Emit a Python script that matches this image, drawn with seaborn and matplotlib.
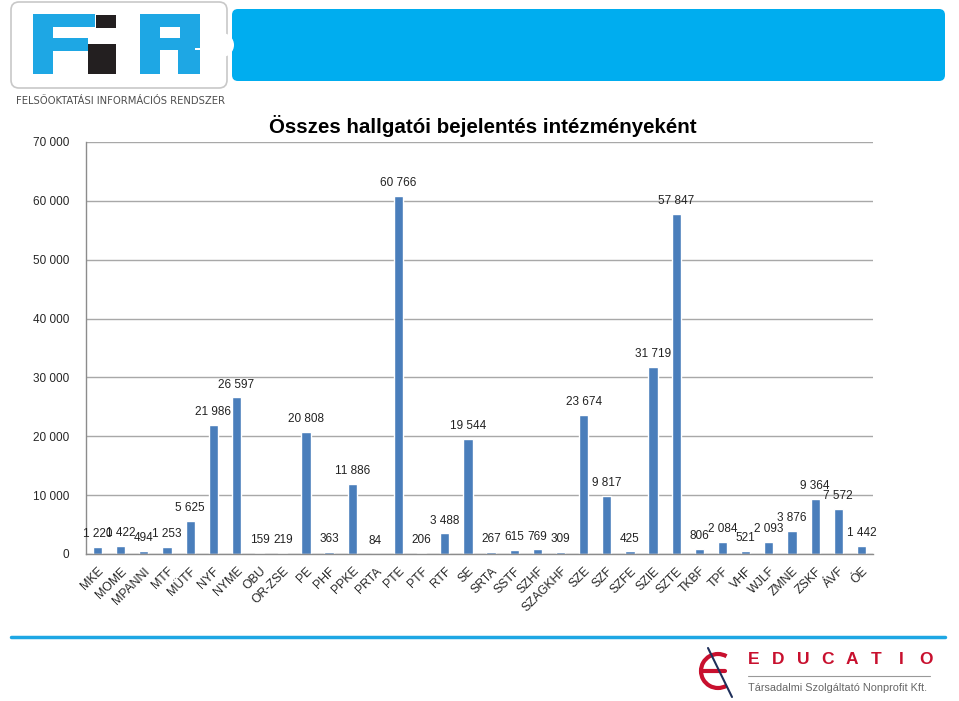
import matplotlib
matplotlib.use("Agg")
import matplotlib.pyplot as plt
import seaborn as sns
import pandas as pd
from matplotlib.patches import Rectangle, FancyBboxPatch, Arc
from matplotlib.lines import Line2D

categories = ["MKE", "MOME", "MPANNI", "MTF", "MÜTF", "NYF", "NYME", "OBU", "OR-ZSE",
              "PE", "PHF", "PPKE", "PRTA", "PTE", "PTF", "RTF", "SE", "SRTA", "SSTF",
              "SZHF", "SZAGKHF", "SZE", "SZF", "SZFE", "SZIE", "SZTE", "TKBF", "TPF",
              "VHF", "WJLF", "ZMNE", "ZSKF", "ÁVF", "ÓE"]
values = [1220, 1422, 494, 1253, 5625, 21986, 26597, 159, 219,
          20808, 363, 11886, 84, 60766, 206, 3488, 19544, 267, 615,
          769, 309, 23674, 9817, 425, 31719, 57847, 806, 2084,
          521, 2093, 3876, 9364, 7572, 1442]
y_ticks = [0, 10000, 20000, 30000, 40000, 50000, 60000, 70000]
y_tick_labels = ["0", "10 000", "20 000", "30 000", "40 000", "50 000", "60 000", "70 000"]
title = "Összes hallgatói bejelentés intézményeként"

sns.set_style("white")
plt.rcParams["font.family"] = ["Liberation Sans", "DejaVu Sans"]

W, H = 959, 701
fig = plt.figure(figsize=(W / 100, H / 100), dpi=100)

# decoration layer in pixel coordinates
deco = fig.add_axes([0, 0, 1, 1], zorder=0)
deco.set_xlim(0, W)
deco.set_ylim(H, 0)
deco.axis("off")

blue = "#1ea7e4"
# banner
deco.add_patch(FancyBboxPatch((232, 9), 713, 72, boxstyle="round,pad=0,rounding_size=6",
                              fc="#00adef", ec="none"))
# white logo box
deco.add_patch(FancyBboxPatch((11, 2), 216, 86, boxstyle="round,pad=0,rounding_size=8",
                              fc="white", ec="#c8c8c8", lw=1.2))
deco.add_patch(plt.Circle((222, 45), 12, fc="white", ec="none"))
# F
for (x0, y0, w, h) in [(33, 14, 20, 60), (33, 14, 62, 13), (33, 38, 55, 13)]:
    deco.add_patch(Rectangle((x0, y0), w, h, fc=blue, ec="none"))
# I (black)
for (x0, y0, w, h) in [(96, 15, 20, 13), (88, 44, 28, 30)]:
    deco.add_patch(Rectangle((x0, y0), w, h, fc="#231f20", ec="none"))
# R
for (x0, y0, w, h) in [(140, 14, 20, 60), (140, 14, 50, 13), (180, 14, 20, 34),
                       (140, 38, 55, 12), (178, 50, 22, 24)]:
    deco.add_patch(Rectangle((x0, y0), w, h, fc=blue, ec="none"))
deco.text(120, 101, "FELSŐOKTATÁSI INFORMÁCIÓS RENDSZER", ha="center", va="center",
          fontsize=8, color="#4d4d4d", family=["DejaVu Sans"], fontstretch="condensed")

# bottom line
deco.add_line(Line2D([11, 945], [637, 637], color="#1ea7e4", lw=2.5))
# EDUCATIO logo
deco.add_patch(Arc((718, 671), 34, 34, theta1=60, theta2=300, color="#c8102e", lw=3))
deco.add_line(Line2D([703, 725], [671, 671], color="#c8102e", lw=3))
deco.add_line(Line2D([708, 732], [648, 697], color="#1f2f5a", lw=1.5))
for i, ch in enumerate("EDUCATIO"):
    deco.text(754 + i * 24.5, 660, ch, ha="center", va="center", fontsize=12.5,
              fontweight="bold", color="#c8102e")
deco.add_line(Line2D([748, 930], [676, 676], color="#999999", lw=0.8))
deco.text(748, 688, "Társadalmi Szolgáltató Nonprofit Kft.", ha="left", va="center",
          fontsize=7.8, color="#666666")

# main chart
ax_l, ax_r, ax_t, ax_b = 86, 873, 142, 554
ax = fig.add_axes([ax_l / W, 1 - ax_b / H, (ax_r - ax_l) / W, (ax_b - ax_t) / H], zorder=2)
ax.patch.set_alpha(0)

df = pd.DataFrame({"cat": categories, "val": values})
sns.barplot(data=df, x="cat", y="val", color="#4a7ebb", saturation=1, width=0.4, ax=ax)
ax.set_xlim(-0.5, len(categories) - 0.5)
ax.set_ylim(0, 70000)
ax.set_yticks(y_ticks)
ax.set_yticklabels(y_tick_labels, fontsize=8.5)
ax.set_xlabel("")
ax.set_ylabel("")
ax.yaxis.grid(True, color="#a8a8a8", lw=1)
ax.set_axisbelow(True)
for s in ["top", "right"]:
    ax.spines[s].set_visible(False)
for s in ["left", "bottom"]:
    ax.spines[s].set_color("#8c8c8c")
    ax.spines[s].set_linewidth(1)

ax.set_xticks(range(len(categories)))
ax.set_xticklabels(categories, rotation=45, ha="right", rotation_mode="anchor", fontsize=8.8)
ax.tick_params(axis="x", which="major", length=0, pad=8)
ax.set_xticks([i + 0.5 for i in range(-1, len(categories))], minor=True)
ax.tick_params(axis="x", which="minor", length=4, color="#8c8c8c", direction="out")
ax.tick_params(axis="y", length=4, color="#8c8c8c", direction="out", pad=8)

labels = [f"{v:,}".replace(",", " ") for v in values]
ax.bar_label(ax.containers[0], labels=labels, padding=5, fontsize=8.5, color="#222222")

fig.text(483 / W, 1 - 126 / H, title, ha="center", va="center", fontsize=14.8,
         fontweight="bold", color="black")

fig.savefig("out.png", dpi=100)
